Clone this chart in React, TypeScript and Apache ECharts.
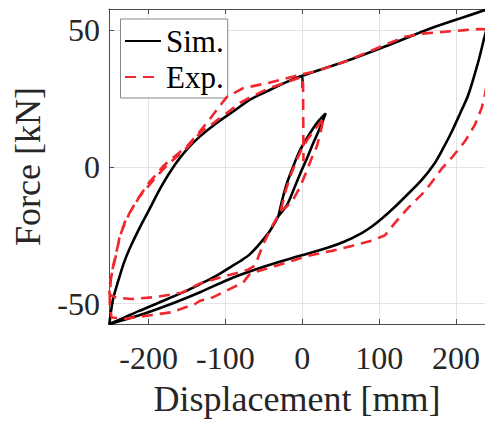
import React, { useEffect, useRef } from "react";
import * as echarts from "echarts";

type Pt = [number, number];

const xTicks = [-200, -100, 0, 100, 200];
const yTicks = [-50, 0, 50];
const xRange: [number, number] = [-251.5, 237.7];
const yRange: [number, number] = [-57.4, 57.6];

// ---- Sim. (black, solid) ----
const simInnerUp: Pt[] = [[-31, -18], [-26, -12], [-20, -6], [-12, 0], [-4, 5.5], [5, 10], [14, 14], [22, 17], [30.5, 19.5]];
const simInnerDown: Pt[] = [[30.5, 19.5], [22, 13.5], [14, 8.5], [6, 3], [-2, -2], [-10, -7.5], [-20, -14], [-31, -18]];
const simToNegPeak: Pt[] = [[-36, -20.5], [-42, -23.4], [-55, -28], [-68, -31.9], [-81, -34.5], [-94, -36.7], [-107, -39], [-120, -41], [-133, -42.8], [-150, -45.2], [-170, -47.6], [-190, -50], [-213, -52.7], [-232, -55.1], [-251, -57.4]];
const simUpperBranch: Pt[] = [[-251, -57.4], [-249, -53], [-246, -48], [-239.4, -41.6], [-232, -35], [-224, -29.5], [-212, -22.5], [-200, -16.1], [-183, -7], [-165.6, 0.8], [-150.4, 6.3], [-133, 11.1], [-111.4, 16], [-89.8, 20.2], [-68, 24.5], [-46.3, 27.5], [-20, 31], [0, 33.2], [16.5, 34.8], [55.6, 38.4], [107.6, 43.9], [172.7, 51.1], [237.7, 57.2], [248, 58.5]];
const simRightBranch: Pt[] = [[248, 58.5], [243, 53], [237.7, 48.1], [229, 38.4], [216, 26.3], [205, 19.3], [194.4, 12.8], [183, 6.6], [172.7, 1.5], [155.4, -4.8], [133.6, -11], [120.6, -14.6], [104, -18.8], [90, -21.9], [77.3, -24.2], [55, -27.3], [33.8, -29.5], [-3, -32.5], [-46.3, -36.1], [-89.8, -40.4], [-133, -45.8], [-170, -50], [-213, -54.3], [-251, -57.4]];
const simEnd: Pt[] = [[0, 33.2], [0.5, 28.8]];

// ---- Exp. (red, dashed) ----
const expInnerUp: Pt[] = [[-28, -16], [-22, -9], [-15, -3], [-8, 2], [0, 7], [8, 10.5], [16, 13.5], [23, 16], [28, 18]];
const expInnerDown: Pt[] = [[28, 18], [24, 13], [19, 7.5], [12, 3], [5, -2], [-3, -7.5], [-12, -12], [-20, -14.5], [-27, -15.8]];
const expToNegPeak: Pt[] = [[-38, -21], [-51, -28.3], [-61.5, -36.1], [-70, -37.5], [-81, -38.5], [-107, -40.4], [-133, -42.6], [-157, -46], [-192, -47.6], [-222, -48.3], [-241.5, -47.8], [-249, -47], [-251, -46]];
const expUpperBranch1: Pt[] = [[-251, -46], [-250, -42], [-247, -38], [-243, -33], [-238, -26], [-230, -19.5], [-216, -12.5], [-200, -6], [-180, 0.5], [-165, 4], [-150, 7.5], [-133, 13], [-120, 17.5], [-108, 22], [-98, 25.5], [-77, 28.7], [-46, 30.5], [-3, 33.6], [16.5, 34.8], [55.6, 38.4], [107.6, 44.5], [133.6, 47.5], [159.6, 48.7], [185.6, 49.3], [211.6, 49.9], [229, 50.3], [240, 50.2], [246, 50]];
const expRightBranch: Pt[] = [[246, 50], [244, 40], [241, 32], [237.7, 26.3], [233.4, 21.5], [224.7, 15.4], [211.6, 9.3], [194.4, 3.3], [181.4, -0.7], [159.7, -8.9], [138, -14.9], [120.6, -20.5], [107.6, -25], [90.3, -27], [64.3, -28.9], [38.3, -30.7], [7.8, -32.5], [-9.5, -34], [-35, -36.2], [-68, -39], [-76.8, -42.2], [-94, -44.6], [-115.8, -47.6], [-133, -48.9], [-139.6, -50.1], [-170, -53.1], [-200.4, -54.3], [-230.7, -55.5], [-248, -55], [-250.5, -51.3], [-250.5, -46]];
const expUpperBranch2: Pt[] = [[-250.5, -46], [-249, -41], [-246, -36], [-241, -30], [-235, -23.5], [-225, -17], [-212, -11], [-200, -7], [-188, -3], [-176, 0.5], [-160, 4.5], [-148, 7.5], [-133, 12.4], [-120, 15], [-107, 17.8], [-94, 20.5], [-80, 23.5], [-68, 25.3], [-46, 28.3], [-20, 31], [0, 32.8], [1, 30], [1.5, 2]];

const simData: Pt[] = [
  ...simInnerUp,
  ...simInnerDown,
  ...simToNegPeak,
  ...simUpperBranch,
  ...simRightBranch,
  ...simUpperBranch.filter((p) => p[0] < 0),
  ...simEnd,
];
const expData: Pt[] = [
  ...expInnerUp,
  ...expInnerDown,
  ...expToNegPeak,
  ...expUpperBranch1,
  ...expRightBranch,
  ...expUpperBranch2,
];

const FONT = '"Liberation Serif", "Times New Roman", serif';
const AXIS = "#4d4d4d";
const TXT = "#262626";
const GRIDC = "#e3e3e3";

export default function App() {
  const ref = useRef<HTMLDivElement>(null);
  useEffect(() => {
    if (!ref.current) return;
    const chart = echarts.init(ref.current, undefined, { renderer: "svg" });
    chart.setOption({
      animation: false,
      backgroundColor: "#ffffff",
      grid: { left: 109, right: 0, top: 9, bottom: 97, containLabel: false },
      legend: {
        left: 120.5,
        top: 19,
        orient: "vertical",
        padding: [6, 4, 5, 3.5],
        itemGap: 4,
        itemWidth: 36,
        itemHeight: 14,
        borderColor: "#888888",
        borderWidth: 1,
        backgroundColor: "#ffffff",
        itemStyle: { opacity: 0 },
        textStyle: { fontSize: 31, fontFamily: FONT, color: "#000", lineHeight: 32, width: 52 },
        data: ["Sim.", "Exp."],
      },
      xAxis: [
        {
          type: "value",
          position: "bottom",
          min: xRange[0],
          max: xRange[1],
          axisLine: { show: true, onZero: false, lineStyle: { color: AXIS, width: 1 } },
          axisTick: { show: true, inside: true, length: 5, customValues: xTicks, lineStyle: { color: AXIS } },
          axisLabel: { customValues: xTicks, margin: 17.5, fontSize: 32, fontFamily: FONT, color: TXT, lineHeight: 32 },
          splitLine: { show: true, lineStyle: { color: GRIDC, width: 1 } },
          name: "Displacement [mm]",
          nameLocation: "middle",
          nameGap: 57,
          nameTextStyle: { fontSize: 36, fontFamily: FONT, color: TXT, lineHeight: 36 },
        },
        {
          type: "value",
          position: "top",
          min: xRange[0],
          max: xRange[1],
          axisLine: { show: true, onZero: false, lineStyle: { color: AXIS, width: 1 } },
          axisTick: { show: true, inside: true, length: 5, customValues: xTicks, lineStyle: { color: AXIS } },
          axisLabel: { show: false },
          splitLine: { show: false },
        },
      ],
      yAxis: {
        type: "value",
        min: yRange[0],
        max: yRange[1],
        axisLine: { show: true, onZero: false, lineStyle: { color: AXIS, width: 1 } },
        axisTick: { show: true, inside: true, length: 5, customValues: yTicks, lineStyle: { color: AXIS } },
        axisLabel: { customValues: yTicks, margin: 9, fontSize: 32, fontFamily: FONT, color: TXT },
        splitLine: { show: true, lineStyle: { color: GRIDC, width: 1 } },
        name: "Force [kN]",
        nameLocation: "middle",
        nameRotate: 90,
        nameGap: 59,
        nameTextStyle: { fontSize: 36, fontFamily: FONT, color: TXT, lineHeight: 36 },
      },
      series: [
        {
          name: "Sim.",
          type: "line",
          xAxisIndex: 0,
          data: simData,
          showSymbol: false,
          symbol: "none",
          smooth: 0.3,
          z: 3,
          lineStyle: { color: "#000000", width: 2.6 },
          itemStyle: { color: "#000000" },
        },
        {
          name: "Exp.",
          type: "line",
          xAxisIndex: 0,
          data: expData,
          showSymbol: false,
          symbol: "none",
          z: 4,
          lineStyle: { color: "#f0282d", width: 2.6, type: [11, 7] },
          itemStyle: { color: "#f0282d" },
        },
      ],
    });
    return () => chart.dispose();
  }, []);
  return (
    <div
      ref={ref}
      style={{ position: "fixed", left: 0, top: 0, width: 485, height: 422, background: "#fff" }}
    />
  );
}
